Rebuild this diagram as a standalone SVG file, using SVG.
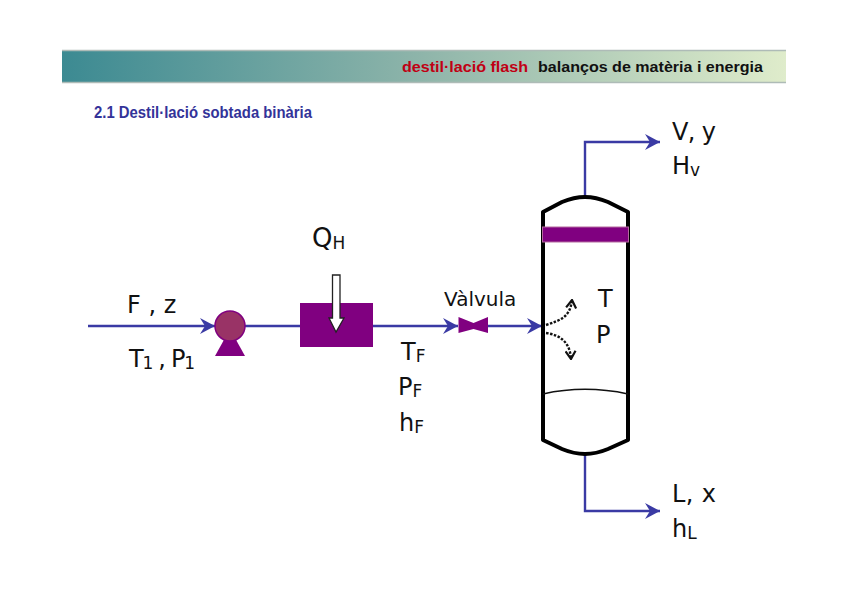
<svg xmlns="http://www.w3.org/2000/svg" width="848" height="599" viewBox="0 0 848 599">
<style>
.l{font-family:"DejaVu Sans","Noto Sans",sans-serif;font-size:24px;fill:#111}
.s{font-size:17px}
.h{font-family:"Liberation Sans",Arial,sans-serif;font-weight:bold;font-size:15.500px}
.c{fill:none;stroke:#3a3aa4;stroke-width:2.400}
.w{fill:none;stroke:#000;stroke-width:4;stroke-linejoin:round}
.p{fill:#800080}
</style>
<defs>
<linearGradient id="g" x1="0" x2="1" y1="0" y2="0"><stop offset="0" stop-color="#3c8a92"/><stop offset="0.5" stop-color="#8fb5aa"/><stop offset="1" stop-color="#dfeccb"/></linearGradient>
<marker id="a" viewBox="0 0 16 16" refX="15" refY="8" markerWidth="16" markerHeight="16" markerUnits="userSpaceOnUse" orient="auto"><path d="M0 0L15 8L0 16L5 8Z" fill="#3a3aa4"/></marker>
<marker id="b" viewBox="0 0 10 12" refX="9" refY="6" markerWidth="10" markerHeight="12" markerUnits="userSpaceOnUse" orient="auto"><path d="M1 1L9 6L1 11" fill="none" stroke="#111" stroke-width="2.200"/></marker>
</defs>
<rect width="848" height="599" fill="#fff"/>
<g id="header">
<rect x="62" y="50" width="724" height="33" fill="url(#g)"/>
<path d="M62 50.500H786M62 82.500H786" stroke="#aebbb7" stroke-width="1.500" fill="none"/>
<text class="h" x="402" y="71.500" fill="#c00014" textLength="126" lengthAdjust="spacingAndGlyphs">destil·lació flash</text>
<text class="h" x="538" y="71.500" fill="#111" textLength="225" lengthAdjust="spacingAndGlyphs">balanços de matèria i energia</text>
</g>
<text id="title" x="94" y="118" font-family="'Liberation Sans',Arial,sans-serif" font-weight="bold" font-size="16.500" fill="#333399" textLength="218" lengthAdjust="spacingAndGlyphs">2.1 Destil·lació sobtada binària</text>
<g id="connectors">
<path class="c" d="M88 326H215" marker-end="url(#a)"/>
<path class="c" d="M244 326H300M373 326H458" marker-end="url(#a)"/>
<path class="c" d="M488 326H542" marker-end="url(#a)"/>
<path class="c" d="M585 198V142H660" marker-end="url(#a)"/>
<path class="c" d="M585 455V511H660" marker-end="url(#a)"/>
<g fill="none" stroke="#111" stroke-width="2.400" stroke-dasharray="2.500 1.500">
<path d="M546 325C560 320 570 318 572 300" marker-end="url(#b)"/>
<path d="M546 333C560 335 570 342 571 359" marker-end="url(#b)"/>
</g>
</g>
<g id="pump">
<path class="p" d="M225 338H235L245 356H215Z"/>
<circle cx="230" cy="326" r="15" fill="#993366" stroke="#800080" stroke-width="1.500"/>
</g>
<g id="heater">
<rect class="p" x="300" y="303" width="73" height="44"/>
<path d="M332.500 275H340V318H344L336 332L329 318H332.500Z" fill="#fff" stroke="#222" stroke-width="1.300"/>
</g>
<g id="valve">
<path class="p" d="M458.500 317L473.500 323L488 317V333L473.500 329L458.500 333Z"/>
</g>
<g id="vessel">
<path class="w" d="M543 212L562 202Q574 197 585 197Q596 197 608 202L628 212V440L608 449Q596 454 585 454Q574 454 562 449L543 440Z"/>
<rect x="542.500" y="227" width="86" height="15" class="p" stroke="#b46a9e" stroke-width="1"/>
<path d="M543 394C570 388 600 388 628 394" fill="none" stroke="#111" stroke-width="1.500"/>
</g>
<g id="labels">
<text class="l" x="127" y="313">F , z</text>
<text class="l" x="129" y="367" textLength="66">T<tspan class="s" dy="2">1</tspan><tspan dy="-2"> , P</tspan><tspan class="s" dy="2">1</tspan></text>
<text class="l" x="312" y="247" style="font-size:26px">Q<tspan class="s" dy="2">H</tspan></text>
<text class="l" x="444" y="306" style="font-size:20px">Vàlvula</text>
<text class="l" x="401" y="360">T<tspan class="s" dy="2">F</tspan></text>
<text class="l" x="398" y="395">P<tspan class="s" dy="2">F</tspan></text>
<text class="l" x="399" y="431">h<tspan class="s" dy="2">F</tspan></text>
<text class="l" x="598" y="307">T</text>
<text class="l" x="596" y="343">P</text>
<text class="l" x="672" y="140" textLength="44">V, y</text>
<text class="l" x="672" y="174">H<tspan class="s" dy="2">v</tspan></text>
<text class="l" x="672" y="502" textLength="44">L, x</text>
<text class="l" x="672" y="537">h<tspan class="s" dy="2">L</tspan></text>
</g>
</svg>
